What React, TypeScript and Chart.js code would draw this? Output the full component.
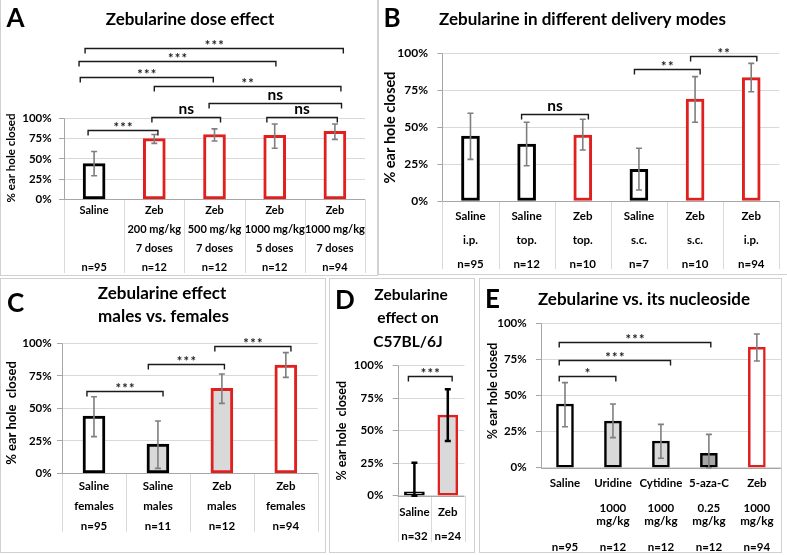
import React, { useEffect, useRef } from "react";
import { Chart, registerables } from "chart.js";

Chart.register(...registerables);

const FONT = "Lato, 'Open Sans', sans-serif";
const RED = "#e0201e";
const BLACK = "#000000";
const WHITE = "#ffffff";
const LIGHT = "#d9d9d9";
const DARK = "#a6a6a6";
const GRID = "#d9d9d9";
const AXIS = "#a6a6a6";
const BOX = "#d0d0d0";

// ---------- Panel A: dose effect ----------
const aGroup = ["Saline", "Zeb", "Zeb", "Zeb", "Zeb"];
const aDose = ["", "200 mg/kg", "500 mg/kg", "1000 mg/kg", "1000 mg/kg"];
const aSchedule = ["", "7 doses", "7 doses", "5 doses", "7 doses"];
const aN = ["n=95", "n=12", "n=12", "n=12", "n=94"];
const aMean = [44, 75, 80, 79, 84];
const aLow = [29, 69, 72, 63, 74];
const aHigh = [59, 80, 87, 93, 93];
const aBrackets: [number, number, number, string][] = [
  [-0.1, 1.06, 85.6, "***"],
  [0.96, 2.1, 102, "ns"],
  [2.87, 4.04, 102, "ns"],
  [1.91, 4.11, 118.5, "ns"],
  [1.0, 4.1, 140, "**"],
  [-0.23, 1.98, 151, "***"],
  [-0.25, 3.02, 170.7, "***"],
  [-0.15, 4.14, 187, "***"],
];

// ---------- Panel B: delivery modes ----------
const bGroup = ["Saline", "Saline", "Zeb", "Saline", "Zeb", "Zeb"];
const bRoute = ["i.p.", "top.", "top.", "s.c.", "s.c.", "i.p."];
const bN = ["n=95", "n=12", "n=10", "n=7", "n=10", "n=94"];
const bMean = [44, 38.6, 44.7, 21.5, 69, 83.5];
const bLow = [28.2, 23.9, 34.5, 7.4, 53.3, 74];
const bHigh = [59.4, 53.3, 55.3, 35.7, 84.2, 93.2];
const bBrackets: [number, number, number, string][] = [
  [0.91, 2.1, 58.7, "ns"],
  [2.92, 4.09, 89.2, "**"],
  [3.92, 5.1, 98.3, "**"],
];

// ---------- Panel C: males vs females ----------
const cGroup = ["Saline", "Saline", "Zeb", "Zeb"];
const cSex = ["females", "males", "males", "females"];
const cN = ["n=95", "n=11", "n=12", "n=94"];
const cMean = [44, 22.5, 65.4, 83.3];
const cLow = [28.2, 3.8, 53.8, 73.8];
const cHigh = [58.9, 40.2, 76.4, 92.8];
const cBrackets: [number, number, number, string][] = [
  [-0.11, 1.08, 63.3, "***"],
  [0.85, 2.04, 83.8, "***"],
  [1.89, 3.08, 97.9, "***"],
];

// ---------- Panel D: C57BL/6J ----------
const dGroup = ["Saline", "Zeb"];
const dN = ["n=32", "n=24"];
const dMean = [3, 62];
const dLow = [0, 42];
const dHigh = [25.4, 81.8];
const dBrackets: [number, number, number, string][] = [[-0.18, 1.13, 92.3, "***"]];

// ---------- Panel E: nucleosides ----------
const eGroup = ["Saline", "Uridine", "Cytidine", "5-aza-C", "Zeb"];
const eAmount = ["", "1000", "1000", "0.25", "1000"];
const eUnit = ["", "mg/kg", "mg/kg", "mg/kg", "mg/kg"];
const eN = ["n=95", "n=12", "n=12", "n=12", "n=94"];
const eMean = [44.1, 32.3, 18.5, 10, 83.4];
const eLow = [28.4, 20.8, 6.5, 0, 73.9];
const eHigh = [58.9, 44.1, 30, 23.1, 92.6];
const eBrackets: [number, number, number, string][] = [
  [-0.12, 1.06, 63.7, "*"],
  [-0.12, 2.2, 74.6, "***"],
  [-0.12, 3.04, 87.3, "***"],
];

interface Spec {
  box: { x: number; y: number; w: number; h: number };
  plot: { left: number; right: number; y0: number; y100: number };
  yMax: number;
  labels: string[][];
  values: number[];
  low: number[];
  high: number[];
  fill: string[];
  stroke: string[];
  brackets: [number, number, number, string][];
  letter: { text: string; x: number; y: number };
  title: { lines: string[]; x: number[]; y: number[]; size: number };
  yTitle: { text: string; x: number; y: number; size: number };
  barThickness: number;
  borderWidth: number;
  xFont: number;
  xLine: number;
  xPad: number;
  yFont: number;
  yPad: number;
  sepBottom: number | null;
  errColor: string;
  errWidth: number;
  capHalf: number;
}

const specs: Spec[] = [
  {
    box: { x: 0, y: 0, w: 378, h: 276 },
    plot: { left: 64, right: 365, y0: 199.3, y100: 118.3 },
    yMax: 200,
    labels: aGroup.map((g, i) => [g, aDose[i], aSchedule[i], aN[i]]),
    values: aMean,
    low: aLow,
    high: aHigh,
    fill: [WHITE, WHITE, WHITE, WHITE, WHITE],
    stroke: [BLACK, RED, RED, RED, RED],
    brackets: aBrackets,
    letter: { text: "A", x: 15.5, y: 18.5 },
    title: { lines: ["Zebularine dose effect"], x: [190], y: [20], size: 17 },
    yTitle: { text: "% ear hole closed", x: 11.5, y: 158, size: 11.5 },
    barThickness: 22,
    borderWidth: 3,
    xFont: 11,
    xLine: 19,
    xPad: 2,
    yFont: 11.5,
    yPad: 7.3,
    sepBottom: 273,
    errColor: "#7f7f7f",
    errWidth: 1.6,
    capHalf: 3,
  },
  {
    box: { x: 379, y: 0, w: 408, h: 275 },
    plot: { left: 442.4, right: 779.3, y0: 201, y100: 53.3 },
    yMax: 100,
    labels: bGroup.map((g, i) => [g, bRoute[i], bN[i]]),
    values: bMean,
    low: bLow,
    high: bHigh,
    fill: [WHITE, WHITE, WHITE, WHITE, WHITE, WHITE],
    stroke: [BLACK, BLACK, RED, BLACK, RED, RED],
    brackets: bBrackets,
    letter: { text: "B", x: 392, y: 18.5 },
    title: { lines: ["Zebularine in different delivery modes"], x: [582.5], y: [20], size: 17 },
    yTitle: { text: "% ear hole closed", x: 390, y: 127.5, size: 14.5 },
    barThickness: 18,
    borderWidth: 3,
    xFont: 11.5,
    xLine: 24,
    xPad: 3.7,
    yFont: 12,
    yPad: 9.4,
    sepBottom: 269,
    errColor: "#7f7f7f",
    errWidth: 1.6,
    capHalf: 3,
  },
  {
    box: { x: 0, y: 278, w: 326, h: 276 },
    plot: { left: 62, right: 317.8, y0: 473.3, y100: 343.3 },
    yMax: 100,
    labels: cGroup.map((g, i) => [g, cSex[i], cN[i]]),
    values: cMean,
    low: cLow,
    high: cHigh,
    fill: [WHITE, LIGHT, LIGHT, WHITE],
    stroke: [BLACK, BLACK, RED, RED],
    brackets: cBrackets,
    letter: { text: "C", x: 15.5, y: 304 },
    title: { lines: ["Zebularine effect", "males vs. females"], x: [162, 163.5], y: [293.3, 316.7], size: 17 },
    yTitle: { text: "% ear hole  closed", x: 11.7, y: 413, size: 13 },
    barThickness: 22,
    borderWidth: 3,
    xFont: 11.5,
    xLine: 20,
    xPad: 2.7,
    yFont: 11.5,
    yPad: 5.3,
    sepBottom: 531.7,
    errColor: "#7f7f7f",
    errWidth: 1.6,
    capHalf: 3,
  },
  {
    box: { x: 328, y: 278, w: 148, h: 276 },
    plot: { left: 397.7, right: 464.5, y0: 495.7, y100: 365.7 },
    yMax: 100,
    labels: dGroup.map((g, i) => [g, dN[i]]),
    values: dMean,
    low: dLow,
    high: dHigh,
    fill: [WHITE, LIGHT],
    stroke: [BLACK, RED],
    brackets: dBrackets,
    letter: { text: "D", x: 345, y: 300.5 },
    title: { lines: ["Zebularine", "effect on", "C57BL/6J"], x: [411, 408, 408], y: [295, 318.3, 341.7], size: 15.5 },
    yTitle: { text: "% ear hole  closed", x: 341.7, y: 430.7, size: 12.5 },
    barThickness: 20,
    borderWidth: 2.5,
    xFont: 11.5,
    xLine: 24.3,
    xPad: 4,
    yFont: 11.5,
    yPad: 9.4,
    sepBottom: 542,
    errColor: "#000000",
    errWidth: 2.5,
    capHalf: 3,
  },
  {
    box: { x: 478, y: 278, w: 305, h: 276 },
    plot: { left: 541, right: 781, y0: 467.7, y100: 323.3 },
    yMax: 100,
    labels: eGroup.map((g, i) => [g, "", eAmount[i], eUnit[i], "", eN[i]]),
    values: eMean,
    low: eLow,
    high: eHigh,
    fill: [WHITE, LIGHT, LIGHT, DARK, WHITE],
    stroke: [BLACK, BLACK, BLACK, BLACK, RED],
    brackets: eBrackets,
    letter: { text: "E", x: 492.5, y: 300 },
    title: { lines: ["Zebularine vs. its nucleoside"], x: [644], y: [300], size: 17 },
    yTitle: { text: "% ear hole closed", x: 493.3, y: 391, size: 12.5 },
    barThickness: 17,
    borderWidth: 2.5,
    xFont: 11.5,
    xLine: 12.7,
    xPad: 9.3,
    yFont: 11.5,
    yPad: 9.3,
    sepBottom: null,
    errColor: "#7f7f7f",
    errWidth: 1.6,
    capHalf: 3,
  },
];

function makeDecor(s: Spec) {
  const ox = s.box.x;
  const oy = s.box.y;
  return {
    id: "decor",
    beforeDatasetsDraw(chart: any) {
      const ctx = chart.ctx as CanvasRenderingContext2D;
      const xs = chart.scales.x;
      const ys = chart.scales.y;
      const ca = chart.chartArea;
      const y0 = ys.getPixelForValue(0);
      const y100 = ys.getPixelForValue(100);
      ctx.save();
      ctx.lineWidth = 1;
      if (s.sepBottom !== null) {
        ctx.strokeStyle = GRID;
        ctx.beginPath();
        for (let i = 0; i <= s.values.length; i++) {
          const px = Math.round(xs.getPixelForValue(i - 0.5)) + 0.5;
          ctx.moveTo(px, y0);
          ctx.lineTo(px, s.sepBottom - oy);
        }
        ctx.stroke();
      }
      ctx.strokeStyle = AXIS;
      ctx.beginPath();
      const yz = Math.round(y0) + 0.5;
      ctx.moveTo(ca.left, yz);
      ctx.lineTo(ca.right, yz);
      const xl = Math.round(ca.left) + 0.5;
      ctx.moveTo(xl, y0);
      ctx.lineTo(xl, y100);
      ctx.stroke();
      ctx.restore();
    },
    afterDatasetsDraw(chart: any) {
      const ctx = chart.ctx as CanvasRenderingContext2D;
      const xs = chart.scales.x;
      const ys = chart.scales.y;
      ctx.save();
      // error bars
      ctx.strokeStyle = s.errColor;
      ctx.lineWidth = s.errWidth;
      ctx.lineCap = "butt";
      s.values.forEach((_, i) => {
        const px = xs.getPixelForValue(i);
        const top = ys.getPixelForValue(s.high[i]);
        const bot = ys.getPixelForValue(s.low[i]);
        ctx.beginPath();
        ctx.moveTo(px, top);
        ctx.lineTo(px, bot);
        ctx.moveTo(px - s.capHalf, top);
        ctx.lineTo(px + s.capHalf, top);
        ctx.moveTo(px - s.capHalf, bot);
        ctx.lineTo(px + s.capHalf, bot);
        ctx.stroke();
      });
      // significance brackets
      s.brackets.forEach(([from, to, at, mark]) => {
        const x1 = xs.getPixelForValue(from);
        const x2 = xs.getPixelForValue(to);
        const yy = Math.round(ys.getPixelForValue(at)) + 0.5;
        const drop = 5;
        ctx.strokeStyle = "#1a1a1a";
        ctx.lineWidth = 1.4;
        ctx.beginPath();
        ctx.moveTo(x1, yy + drop);
        ctx.lineTo(x1, yy);
        ctx.lineTo(x2, yy);
        ctx.lineTo(x2, yy + drop);
        ctx.stroke();
        const cx = (x1 + x2) / 2;
        ctx.textAlign = "center";
        ctx.textBaseline = "alphabetic";
        if (mark === "ns") {
          ctx.font = `bold 15.5px ${FONT}`;
          ctx.fillStyle = "#000";
          ctx.fillText(mark, cx, yy - 3.4);
        } else {
          ctx.font = `bold 13px ${FONT}`;
          ctx.fillStyle = "#1a1a1a";
          const n = mark.length;
          const gap = 6.8;
          for (let k = 0; k < n; k++) {
            ctx.fillText("*", cx + (k - (n - 1) / 2) * gap, yy + 1.5);
          }
        }
      });
      ctx.restore();
    },
    afterDraw(chart: any) {
      const ctx = chart.ctx as CanvasRenderingContext2D;
      ctx.save();
      ctx.fillStyle = "#000";
      ctx.textAlign = "center";
      ctx.textBaseline = "middle";
      ctx.font = `bold 26px ${FONT}`;
      ctx.fillText(s.letter.text, s.letter.x - ox, s.letter.y - oy);
      ctx.font = `bold ${s.title.size}px ${FONT}`;
      s.title.lines.forEach((line, i) => {
        ctx.fillText(line, s.title.x[i] - ox, s.title.y[i] - oy);
      });
      ctx.translate(s.yTitle.x - ox, s.yTitle.y - oy);
      ctx.rotate(-Math.PI / 2);
      ctx.font = `bold ${s.yTitle.size}px ${FONT}`;
      ctx.fillText(s.yTitle.text, 0, 0);
      ctx.restore();
    },
  };
}

function Panel({ spec }: { spec: Spec }) {
  const ref = useRef<HTMLCanvasElement | null>(null);
  useEffect(() => {
    const s = spec;
    const canvas = ref.current;
    if (!canvas) return;
    const perPct = (s.plot.y0 - s.plot.y100) / 100;
    const topPad = s.plot.y0 - s.yMax * perPct - s.box.y;
    const chart = new Chart(canvas, {
      type: "bar",
      data: {
        labels: s.labels,
        datasets: [
          {
            data: s.values,
            backgroundColor: s.fill,
            borderColor: s.stroke,
            borderWidth: s.borderWidth,
            borderSkipped: false,
            barThickness: s.barThickness,
          },
        ],
      },
      options: {
        responsive: false,
        animation: false,
        events: [],
        layout: {
          padding: {
            top: topPad,
            left: 0,
            right: s.box.x + s.box.w - s.plot.right,
            bottom: 0,
          },
        },
        plugins: {
          legend: { display: false },
          tooltip: { enabled: false },
          title: { display: false },
        },
        scales: {
          x: {
            type: "category",
            offset: true,
            grid: { display: true, drawOnChartArea: false, drawTicks: false, color: "transparent" },
            border: { display: false },
            ticks: {
              autoSkip: false,
              maxRotation: 0,
              minRotation: 0,
              padding: s.xPad,
              color: "#000",
              font: { family: FONT, size: s.xFont, weight: "bold", lineHeight: `${s.xLine}px` },
            },
            afterFit: (scale: any) => {
              scale.height = s.box.y + s.box.h - s.plot.y0;
            },
          },
          y: {
            min: 0,
            max: s.yMax,
            grid: { color: GRID, tickColor: AXIS, tickLength: 5, lineWidth: 1 },
            border: { display: false },
            ticks: {
              stepSize: 25,
              padding: s.yPad,
              color: "#000",
              font: { family: FONT, size: s.yFont, weight: "bold" },
              callback: (v: any) => `${v}%`,
            },
            afterBuildTicks: (scale: any) => {
              scale.ticks = scale.ticks.filter((t: any) => t.value <= 100);
            },
            afterFit: (scale: any) => {
              scale.width = s.plot.left - s.box.x;
            },
          },
        },
      },
      plugins: [makeDecor(s)],
    } as any);
    return () => chart.destroy();
  }, [spec]);
  return (
    <canvas
      ref={ref}
      width={spec.box.w}
      height={spec.box.h}
      style={{ position: "absolute", left: spec.box.x, top: spec.box.y, width: spec.box.w, height: spec.box.h }}
    />
  );
}

const boxes = [
  { x: 0, y: -2, w: 378, h: 278 },
  { x: 378, y: -2, w: 410, h: 277 },
  { x: 0, y: 278, w: 326, h: 275 },
  { x: 329, y: 278, w: 146, h: 275 },
  { x: 479, y: 278, w: 303, h: 275 },
];

export default function App() {
  return (
    <div style={{ position: "absolute", left: 0, top: 0, width: 787, height: 555, background: "#fff", overflow: "hidden" }}>
      {boxes.map((b, i) => (
        <div
          key={i}
          style={{
            position: "absolute",
            left: b.x,
            top: b.y,
            width: b.w,
            height: b.h,
            border: `1px solid ${BOX}`,
            boxSizing: "border-box",
          }}
        />
      ))}
      {specs.map((s, i) => (
        <Panel key={i} spec={s} />
      ))}
    </div>
  );
}
